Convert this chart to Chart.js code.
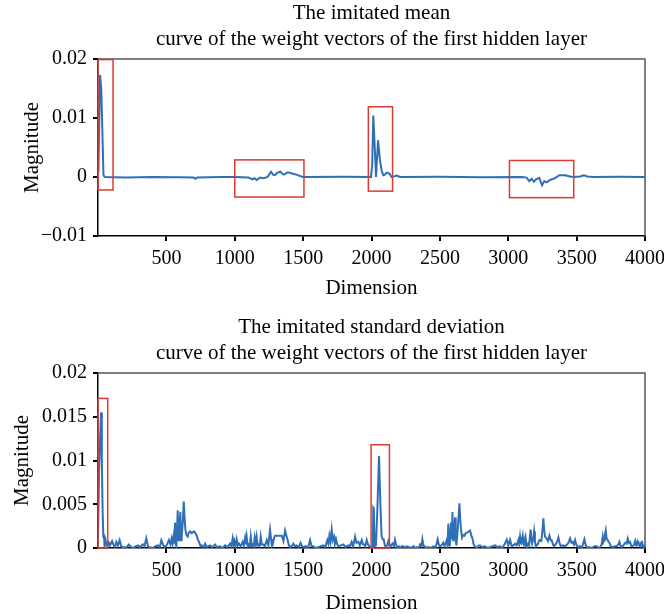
<!DOCTYPE html>
<html>
<head>
<meta charset="utf-8">
<script src="https://cdn.jsdelivr.net/npm/chart.js@4.4.0/dist/chart.umd.min.js"></script>
<style>
body{margin:0;background:#fff;width:664px;height:614px;position:relative;overflow:hidden}
canvas{position:absolute;left:0}
#meanChart{top:0}
#stdChart{top:314px}
</style>
</head>
<body>
<canvas id="meanChart" width="664" height="307"></canvas>
<canvas id="stdChart" width="664" height="300"></canvas>
<script>
const xTicks = [500,1000,1500,2000,2500,3000,3500,4000];
const meanYTicks = [-0.01,0,0.01,0.02];
const meanYLabels = ["\u22120.01","0","0.01","0.02"];
const stdYTicks = [0,0.005,0.01,0.015,0.02];
const stdYLabels = ["0","0.005","0.01","0.015","0.02"];

// mean curve
const meanDims = [0,3,15,24,40,50,200,400,600,700,
  712,725,900,1000,1100,1130,1145,1160,1185,1210,
  1240,1265,1280,1294,1310,1333,1357,1389,1420,1450,
  1497,1800,1996,2005,2013,2022,2033,2048,2062,2074,
  2086,2098,2110,2130,2147,2165,2184,2208,2500,2800,
  3100,3134,3154,3171,3188,3203,3227,3247,3264,3281,
  3305,3342,3373,3415,3452,3476,3525,3554,3578,3620,
  3800,4000];
const meanVals = [0.0055,0.0008,0.0173,0.015,0.0003,0,-0.0001,0,-0.00005,-0.0001,
  -0.0003,-0.0001,0,0,-0.0001,-0.0004,-0.0002,-0.0005,-0.0001,-0.0002,
  0,0.0009,0.0004,0.0003,0.0007,0.0009,0.0004,0.0008,0.0006,0.0004,
  0,0.00005,0,0.002,0.0104,0.006,0,0.0062,0.0028,0.0011,
  0.0003,0.0004,0.0007,0.0006,0,0.0001,0.00025,0,0.00005,-0.00005,
  0,-0.0001,-0.0007,-0.0003,-0.0008,-0.0004,-0.00015,-0.0014,-0.0007,-0.0009,
  -0.0005,-0.0002,0.0003,0.0003,0.0001,0,0.0001,0.0003,0.0001,0,
  0.00003,0];

// standard deviation curve
const stdDims = [0,8,22,28,34,39,43,48,55,62,
  70,80,88,103,115,124,134,146,158,170,
  180,210,225,243,262,275,292,305,329,340,
  353,365,375,402,420,439,452,463,478,490,
  505,519,530,539,546,553,557,563,568,573,
  583,588,592,602,607,612,620,627,633,639,
  646,656,665,673,685,702,712,722,732,739,
  750,758,772,783,795,808,819,835,856,870,
  892,910,929,945,966,975,985,991,997,1005,
  1014,1022,1031,1044,1058,1066,1075,1080,1087,1095,
  1102,1110,1117,1124,1131,1138,1146,1153,1160,1167,
  1175,1182,1190,1198,1209,1220,1234,1246,1258,1266,
  1272,1278,1288,1295,1319,1344,1356,1368,1378,1387,
  1396,1404,1417,1429,1441,1453,1468,1482,1492,1502,
  1520,1536,1551,1562,1575,1590,1611,1630,1648,1663,
  1677,1685,1692,1700,1709,1717,1726,1733,1741,1750,
  1758,1775,1794,1810,1831,1843,1855,1866,1880,1890,
  1904,1915,1929,1938,1946,1955,1965,1975,1985,2002,
  2010,2013,2017,2022,2032,2042,2055,2065,2074,2082,
  2089,2098,2104,2115,2123,2131,2138,2153,2163,2172,
  2184,2200,2209,2222,2233,2245,2258,2270,2282,2295,
  2306,2320,2331,2345,2355,2365,2372,2380,2387,2400,
  2416,2430,2453,2470,2484,2492,2499,2512,2525,2535,
  2550,2556,2562,2567,2572,2577,2582,2587,2592,2597,
  2601,2606,2611,2616,2621,2630,2643,2650,2655,2662,
  2670,2680,2689,2705,2721,2730,2738,2747,2757,2770,
  2785,2794,2810,2830,2848,2867,2885,2904,2920,2940,
  2955,2964,2976,2989,3001,3013,3026,3038,3050,3062,
  3074,3080,3086,3091,3096,3106,3111,3116,3121,3126,
  3131,3135,3145,3152,3164,3169,3174,3182,3189,3195,
  3201,3215,3228,3242,3250,3257,3263,3269,3280,3290,
  3301,3310,3318,3327,3335,3350,3360,3367,3375,3384,
  3400,3416,3430,3440,3452,3462,3472,3480,3489,3497,
  3506,3515,3525,3540,3557,3565,3574,3590,3611,3630,
  3647,3660,3672,3683,3691,3696,3701,3707,3713,3719,
  3725,3733,3740,3750,3764,3780,3794,3805,3813,3820,
  3830,3842,3855,3865,3874,3882,3891,3900,3911,3920,
  3928,3935,3940,3947,3952,3958,3965,3972,3977,3983,
  3989,3995,4000];
const stdVals = [0.0012,0.009,0.0155,0.010,0.004,0.0013,0.0016,0.0002,0.0009,0.0004,
  0.0002,0.0006,0.0003,0.0008,0.0003,0.0001,0.0007,0.0003,0.0009,0.0002,
  0.0001,0.0001,0.0004,0.0001,0,0.0002,0.0003,0.0001,0.0004,0.0002,
  0.0011,0.0002,0.0001,0,0.0002,0.0003,0.0001,0.0009,0.0003,0.0001,
  0.0004,0.0009,0.0004,0.0011,0.0005,0.0013,0.0006,0.0029,0.0005,0.0002,
  0.0043,0.0009,0.0012,0.0041,0.0009,0.0013,0.003,0.0053,0.0035,0.0021,
  0.0015,0.0013,0.0018,0.0019,0.0017,0.0019,0.0017,0.0014,0.0009,0.0007,
  0.0002,0.0003,0.0001,0.0005,0.0001,0.0002,0.0003,0.0001,0.0004,0.0001,
  0.0002,0,0.0003,0.0001,0.0005,0.0002,0.0011,0.0004,0.0008,0.0002,
  0.001,0.0003,0.0005,0.0002,0.0007,0.0003,0.0011,0.0004,0.0013,0.0002,
  0.0004,0.0002,0.0013,0.0003,0.0004,0.0001,0.0012,0.0005,0.0013,0.0003,
  0.0004,0.0002,0.0013,0.0004,0.0004,0.0002,0.0009,0.0003,0.0021,0.001,
  0.0002,0.0004,0.0012,0.0014,0.0014,0.0014,0.0008,0.002,0.0014,0.0009,
  0.0003,0.0001,0.0002,0.0005,0.0002,0.0003,0.0001,0.0006,0.0002,0.0001,
  0.0002,0,0.0009,0.0002,0.0002,0,0.0001,0.0002,0.0003,0.0001,
  0.0009,0.0005,0.0014,0.0007,0.0021,0.0009,0.0013,0.0005,0.001,0.0004,
  0.0002,0.0003,0.0004,0.0001,0.0003,0.0002,0.0007,0.0002,0.0013,0.0006,
  0.0007,0.0003,0.0009,0.0004,0.0004,0.0002,0.0009,0.0004,0.0002,0,
  0.0001,0.0046,0.0045,0.0002,0.0003,0.004,0.0105,0.005,0.0013,0.001,
  0.001,0.0003,0.0001,0.0003,0.0008,0.0004,0.0002,0.0005,0.0002,0.00095,
  0.0001,0.0002,0,0.0002,0.0002,0,0.0002,0.0001,0.0001,0,
  0.0002,0,0.0001,0,0.0004,0.0002,0.001,0.0003,0.0002,0,
  0.0001,0,0.0002,0.0001,0.001,0.0004,0.0002,0.0003,0.0006,0.0002,
  0.0009,0.0004,0.0028,0.0007,0.0002,0.0012,0.0029,0.001,0.0041,0.0009,
  0.001,0.002,0.0035,0.001,0.0003,0.002,0.0051,0.003,0.002,0.0012,
  0.0015,0.0014,0.0017,0.0018,0.002,0.0014,0.0011,0.0004,0.0002,0,
  0.0003,0.0003,0.0001,0.0002,0,0.0001,0.0002,0.0003,0.0001,0.0002,
  0,0.0002,0.0005,0.00095,0.0003,0.00095,0.0002,0.0003,0.0005,0.0003,
  0.0009,0.0005,0.0013,0.0006,0.0005,0.0014,0.0006,0.0003,0.001,0.0013,
  0.0005,0.0002,0.0005,0.0003,0.0021,0.001,0.0005,0.001,0.0019,0.0008,
  0.0002,0.0004,0.0009,0.0008,0.002,0.0034,0.002,0.0013,0.0011,0.0008,
  0.0014,0.0009,0.0009,0.0004,0.0002,0.0005,0.0008,0.0012,0.0006,0.0002,
  0.0003,0.0002,0.0004,0.0006,0.0011,0.0006,0.0007,0.0004,0.0009,0.0004,
  0.0002,0.0001,0.0002,0.0001,0.001,0.0004,0.0001,0.0001,0,0.0002,
  0.0002,0,0.0001,0.0004,0.0013,0.0007,0.0009,0.0015,0.002,0.0011,
  0.001,0.0007,0.0006,0.0002,0.0001,0.0002,0.0002,0.0004,0.0007,0.0003,
  0.0001,0.0003,0.0006,0.0005,0.0011,0.0006,0.0007,0.0002,0.0002,0.0004,
  0.0008,0.0003,0.0004,0.0008,0.0007,0.0003,0.0002,0.0006,0.0008,0.0002,
  0.0001,0.0003,0.0004];

// highlighted regions: [dim from, dim to, magnitude from, magnitude to]
const meanBoxes = [[0,110,-0.0022,0.0199],[1000,1506,-0.0034,0.0029],[1977,2154,-0.0024,0.0119],[3009,3479,-0.0035,0.0028]];
const stdBoxes = [[0,71,0,0.0171],[1997,2131,0,0.0118]];

const FONT = "'Liberation Serif','DejaVu Serif',serif";
Chart.defaults.font.family = FONT;
Chart.defaults.font.size = 20;
Chart.defaults.color = "#000";

function makeChart(id, c){
  const boxes = {
    id: "boxes",
    afterDatasetsDraw(chart){
      const {ctx, scales:{x, y}} = chart;
      ctx.save();
      ctx.strokeStyle = "#dc3a33";
      ctx.lineWidth = 1.5;
      c.boxes.forEach(b=>{
        const x0 = x.getPixelForValue(b[0]), x1 = x.getPixelForValue(b[1]);
        const y0 = y.getPixelForValue(b[2]), y1 = y.getPixelForValue(b[3]);
        ctx.strokeRect(x0, y1, x1-x0, y0-y1);
      });
      ctx.restore();
    }
  };
  const frame = {
    id: "frame",
    beforeDatasetsDraw(chart){
      const {ctx, chartArea:a} = chart;
      ctx.save();
      ctx.strokeStyle = "#555";
      ctx.lineWidth = 1.5;
      ctx.beginPath();
      ctx.moveTo(a.left, a.top);
      ctx.lineTo(a.right, a.top);
      ctx.lineTo(a.right, a.bottom);
      ctx.stroke();
      ctx.restore();
    }
  };
  return new Chart(document.getElementById(id), {
    type: "line",
    data: {datasets: [{
      data: c.dims.map((d,i)=>({x:d, y:c.vals[i]})),
      borderColor: "#2f6fb7",
      borderWidth: 2,
      pointRadius: 0,
      tension: 0
    }]},
    options: {
      responsive: false,
      animation: false,
      devicePixelRatio: 1,
      layout: {padding: {left:0, right:19, top:0, bottom:0}},
      plugins: {
        legend: {display:false},
        tooltip: {enabled:false},
        title: {
          display: true,
          fullSize: false,
          text: c.title,
          color: "#000",
          font: {size:21, weight:"normal", lineHeight:"26px"},
          padding: {top:0, bottom:7}
        }
      },
      scales: {
        x: {
          type: "linear", min: 0, max: 4000,
          afterBuildTicks: s=>{ s.ticks = xTicks.map(v=>({value:v})); },
          afterFit: s=>{ s.height = c.xAxisHeight; s.paddingLeft = 0; s.paddingRight = 0; },
          ticks: {padding:6, maxRotation:0, autoSkip:false, color:"#000", font:{size:20},
            callback: v=>String(v)},
          grid: {drawOnChartArea:false, tickLength:5, color:"#000", lineWidth:2},
          border: {color:"#000", width:1.5},
          title: {display:true, text:"Dimension", color:"#000", font:{size:21}, padding:{top:0, bottom:c.xTitlePad}}
        },
        y: {
          min: c.yMin, max: c.yMax,
          afterBuildTicks: s=>{ s.ticks = c.yTicks.map(v=>({value:v})); },
          afterFit: s=>{ s.width = 98; },
          ticks: {padding:6, color:"#000", font:{size:20},
            callback: v=>c.yLabels[c.yTicks.indexOf(v)]},
          grid: {drawOnChartArea:false, tickLength:5, color:"#000", lineWidth:2},
          border: {color:"#000", width:1.5},
          title: {display:true, text:"Magnitude", color:"#000", font:{size:21}, padding:{top:c.yTitlePad, bottom:0}}
        }
      }
    },
    plugins: [frame, boxes]
  });
}

makeChart("meanChart", {
  title: ["The imitated mean", "curve of the weight vectors of the first hidden layer"],
  dims: meanDims, vals: meanVals, boxes: meanBoxes,
  yMin: -0.01, yMax: 0.02, yTicks: meanYTicks, yLabels: meanYLabels,
  xAxisHeight: 71, xTitlePad: 6.4, yTitlePad: 19.4
});
makeChart("stdChart", {
  title: ["The imitated standard deviation", "curve of the weight vectors of the first hidden layer"],
  dims: stdDims, vals: stdVals, boxes: stdBoxes,
  yMin: 0, yMax: 0.02, yTicks: stdYTicks, yLabels: stdYLabels,
  xAxisHeight: 66, xTitlePad: -1.6, yTitlePad: 9.4
});
</script>
</body>
</html>
